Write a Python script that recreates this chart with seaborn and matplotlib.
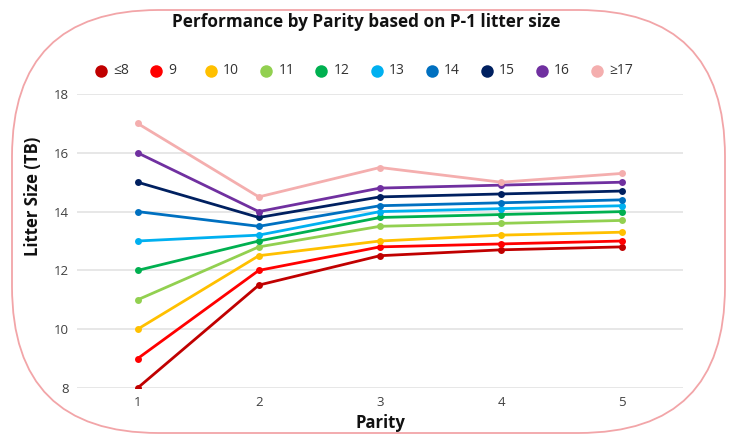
import matplotlib
matplotlib.use("Agg")
import matplotlib.pyplot as plt
from matplotlib.patches import FancyBboxPatch
from matplotlib.lines import Line2D
import seaborn as sns
import pandas as pd

# Litter size (total born) by parity, grouped by P-1 litter size
parity = [1, 2, 3, 4, 5]
groups = ["≤8", "9", "10", "11", "12", "13", "14", "15", "16", "≥17"]
g_le8 = [8.0, 11.5, 12.5, 12.7, 12.8]
g_9 = [9.0, 12.0, 12.8, 12.9, 13.0]
g_10 = [10.0, 12.5, 13.0, 13.2, 13.3]
g_11 = [11.0, 12.8, 13.5, 13.6, 13.7]
g_12 = [12.0, 13.0, 13.8, 13.9, 14.0]
g_13 = [13.0, 13.2, 14.0, 14.1, 14.2]
g_14 = [14.0, 13.5, 14.2, 14.3, 14.4]
g_15 = [15.0, 13.8, 14.5, 14.6, 14.7]
g_16 = [16.0, 14.0, 14.8, 14.9, 15.0]
g_ge17 = [17.0, 14.5, 15.5, 15.0, 15.3]
series = [g_le8, g_9, g_10, g_11, g_12, g_13, g_14, g_15, g_16, g_ge17]
colors = ["#C00000", "#FF0000", "#FFC000", "#92D050", "#00B050",
          "#00B0F0", "#0070C0", "#002060", "#7030A0", "#F4AEAE"]
y_ticks = [8, 10, 12, 14, 16, 18]

rows = []
for name, vals in zip(groups, series):
    for p, v in zip(parity, vals):
        rows.append({"Parity": p, "Litter": v, "Group": name})
df = pd.DataFrame(rows)

sns.set_theme(style="white")
plt.rcParams["font.family"] = ["Open Sans", "DejaVu Sans"]

W, H = 732, 434
fig = plt.figure(figsize=(W / 100, H / 100), dpi=100)

# rounded frame around the whole chart
frame = FancyBboxPatch((12 / W, 1 - 433 / H), (725 - 12) / W, (433 - 10) / H,
                       boxstyle="round,pad=0,rounding_size=0.2",
                       transform=fig.transFigure, facecolor="none",
                       edgecolor="#F2A5A8", linewidth=1.3,
                       mutation_aspect=W / H)
fig.patches.append(frame)

ax = fig.add_axes([77 / W, 1 - 388 / H, (683 - 77) / W, (388 - 94) / H])
sns.lineplot(data=df, x="Parity", y="Litter", hue="Group", hue_order=groups,
             palette=colors, marker="o", markersize=5, markeredgewidth=0,
             linewidth=2, ax=ax, legend=False)

ax.set_xlim(0.5, 5.5)
ax.set_ylim(8, 18)
ax.set_xticks(parity)
ax.set_yticks(y_ticks)
ax.grid(axis="y", color="#E3E3E3", linewidth=1.2)
ax.set_axisbelow(True)
for s in ax.spines.values():
    s.set_visible(False)
ax.tick_params(axis="both", length=0, labelsize=9.5, labelcolor="#404040")
ax.tick_params(axis="y", pad=6)
ax.tick_params(axis="x", pad=6)
ax.set_xlabel("Parity", fontsize=12, fontweight="bold", color="#111111", labelpad=3)
ax.set_ylabel("Litter Size (TB)", fontsize=12, fontweight="bold", color="#111111")
ax.yaxis.set_label_coords(-(77 - 42) / (683 - 77), (388 - 196) / (388 - 94))

fig.text(0.5, 1 - 22 / H, "Performance by Parity based on P-1 litter size",
         ha="center", va="center", fontsize=12.3, fontweight="bold", color="#111111")

# legend row: one dot and label per group, evenly spaced
leg_y = 1 - 71 / H
leg_x0, leg_step = 101, 55.1
for i, (name, c) in enumerate(zip(groups, colors)):
    x = leg_x0 + i * leg_step
    fig.add_artist(Line2D([x / W], [leg_y], transform=fig.transFigure,
                          marker="o", linestyle="none", markersize=9,
                          markerfacecolor=c, markeredgewidth=0))
    fig.text((x + 12) / W, leg_y, name, ha="left", va="center",
             fontsize=10, color="#333333")

fig.savefig("out.png", dpi=100)
